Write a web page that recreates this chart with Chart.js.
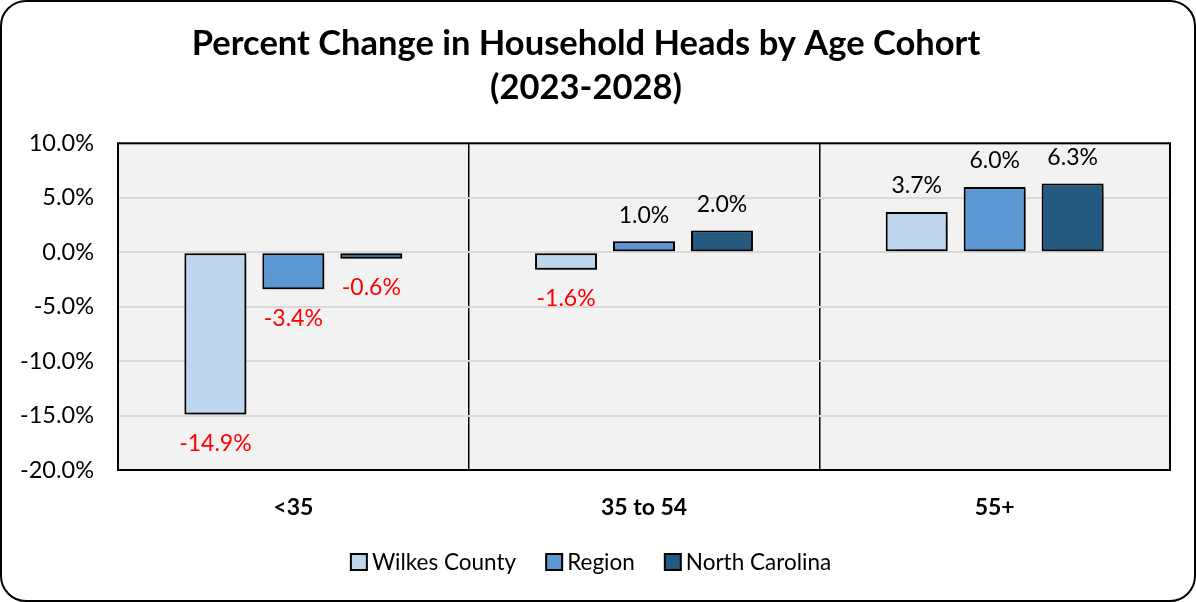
<!DOCTYPE html>
<html>
<head>
<meta charset="utf-8">
<script src="https://cdn.jsdelivr.net/npm/chart.js@4"></script>
<style>
  html, body { margin: 0; padding: 0; background: #fff; }
  #frame {
    width: 1192px; height: 598px;
    border: 2px solid #000; border-radius: 26px;
    position: relative; overflow: hidden; background: #fff;
  }
  #wrap { position: absolute; left: 0; top: 0; width: 1192px; height: 598px; }
</style>
</head>
<body>
<div id="frame"><div id="wrap"><canvas id="chart"></canvas></div></div>
<script>
// Percent change in household heads, 2023-2028
const cohorts = ['<35', '35 to 54', '55+'];
const wilkes = [-14.9, -1.6, 3.7];
const region = [-3.4, 1.0, 6.0];
const northCarolina = [-0.6, 2.0, 6.3];
const seriesNames = ['Wilkes County', 'Region', 'North Carolina'];
const seriesColors = ['#bed5ee', '#5b97d3', '#255a80'];

const FONT = 'Lato, Calibri, Carlito, sans-serif';

// grey plot background + black frame around it
const plotBox = {
  id: 'plotBox',
  beforeDraw(chart) {
    const a = chart.chartArea, ctx = chart.ctx;
    ctx.save();
    ctx.fillStyle = '#f2f2f2';
    ctx.fillRect(a.left, a.top, a.right - a.left, a.bottom - a.top);
    ctx.restore();
  },
  afterDraw(chart) {
    const a = chart.chartArea, ctx = chart.ctx;
    ctx.save();
    ctx.strokeStyle = '#000';
    ctx.lineWidth = 2;
    ctx.strokeRect(a.left, a.top, a.right - a.left, a.bottom - a.top);
    ctx.restore();
  }
};

// soft shadow under bars
const barShadow = {
  id: 'barShadow',
  beforeDatasetsDraw(chart) {
    const ctx = chart.ctx;
    ctx.save();
    ctx.shadowColor = 'rgba(0,0,0,0.5)';
    ctx.shadowBlur = 9;
    ctx.shadowOffsetX = 4;
    ctx.shadowOffsetY = 4;
  },
  afterDatasetsDraw(chart) {
    chart.ctx.restore();
  }
};

// value labels: black above positive bars, red below negative ones
const valueLabels = {
  id: 'valueLabels',
  afterDatasetsDraw(chart) {
    const ctx = chart.ctx;
    ctx.save();
    ctx.font = '23px ' + FONT;
    ctx.textAlign = 'center';
    ctx.textBaseline = 'middle';
    chart.data.datasets.forEach((ds, i) => {
      chart.getDatasetMeta(i).data.forEach((bar, j) => {
        const v = ds.data[j];
        const neg = v < 0;
        ctx.fillStyle = neg ? '#ff0000' : '#000';
        const y = neg ? bar.y + 29 : bar.y - 26;
        ctx.fillText(v.toFixed(1) + '%', bar.x, y);
      });
    });
    ctx.restore();
  }
};

// legend drawn by hand: small box, tight gap to text
const bottomLegend = {
  id: 'bottomLegend',
  afterDraw(chart) {
    const ctx = chart.ctx;
    const box = 16, gap = 5, itemGap = 30, y = 560;
    ctx.save();
    ctx.font = '22.5px ' + FONT;
    ctx.textBaseline = 'middle';
    const items = chart.data.datasets.map(ds => ({ ds, w: ctx.measureText(ds.label).width }));
    const total = items.reduce((s, it) => s + box + gap + it.w, 0) + itemGap * (items.length - 1);
    let x = chart.width / 2 - 7 - total / 2;
    items.forEach(it => {
      ctx.fillStyle = it.ds.backgroundColor;
      ctx.fillRect(x, y - box / 2, box, box);
      ctx.strokeStyle = '#000';
      ctx.lineWidth = 2;
      ctx.strokeRect(x, y - box / 2, box, box);
      ctx.fillStyle = '#000';
      ctx.fillText(it.ds.label, x + box + gap, y + 1);
      x += box + gap + it.w + itemGap;
    });
    ctx.restore();
  }
};

new Chart(document.getElementById('chart'), {
  type: 'bar',
  data: {
    labels: cohorts,
    datasets: [wilkes, region, northCarolina].map((d, i) => ({
      label: seriesNames[i],
      data: d,
      backgroundColor: seriesColors[i],
      borderColor: '#000',
      borderWidth: 2,
      borderSkipped: false,
      categoryPercentage: 0.667,
      barPercentage: 0.795
    }))
  },
  options: {
    responsive: true,
    maintainAspectRatio: false,
    animation: false,
    layout: { padding: { left: 0, right: 24, top: 0, bottom: 0 } },
    plugins: {
      title: {
        display: true,
        text: ['Percent Change in Household Heads by Age Cohort', '(2023-2028)'],
        color: '#000',
        font: { family: FONT, size: 34.5, weight: 'bold', lineHeight: 1.28 },
        padding: { top: 20, bottom: 33 }
      },
      legend: { display: false },
      tooltip: { enabled: false }
    },
    scales: {
      x: {
        grid: { offset: true, color: '#000', lineWidth: 1.5, drawTicks: false },
        border: { display: false },
        ticks: { color: '#000', font: { family: FONT, size: 23, weight: 'bold' }, padding: 24 },
        afterFit: s => { s.height = 130; }
      },
      y: {
        min: -20,
        max: 10,
        grid: { color: '#d9d9d9', lineWidth: 2, drawTicks: false },
        border: { display: false },
        ticks: {
          stepSize: 5,
          color: '#000',
          font: { family: FONT, size: 23.5 },
          padding: 24,
          callback: v => v.toFixed(1) + '%'
        },
        afterFit: s => { s.width = 116; }
      }
    }
  },
  plugins: [plotBox, barShadow, valueLabels, bottomLegend]
});
</script>
</body>
</html>
